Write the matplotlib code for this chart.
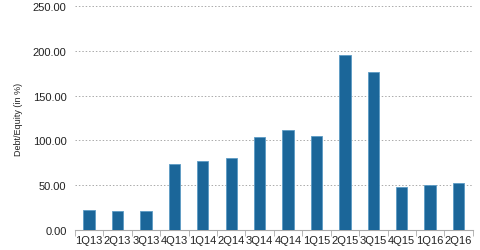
import matplotlib
matplotlib.use('Agg')
import matplotlib.pyplot as plt
import numpy as np

quarters = ['1Q13', '2Q13', '3Q13', '4Q13', '1Q14', '2Q14', '3Q14',
            '4Q14', '1Q15', '2Q15', '3Q15', '4Q15', '1Q16', '2Q16']
debt_equity = [22.7, 21.6, 20.9, 73.8, 77.1, 80.8, 104.3,
               112.1, 105.4, 195.2, 175.9, 48.1, 50.7, 52.2]
y_ticks = [0, 50, 100, 150, 200, 250]

plt.rcParams['font.family'] = ['Liberation Sans', 'DejaVu Sans']

fig = plt.figure(figsize=(4.8, 2.51), dpi=100)
ax = fig.add_axes([0.156, 0.08, 0.829, 0.892])

x = np.arange(len(quarters))
ax.bar(x, debt_equity, width=0.4, color='#1b6699', edgecolor='#5b9bc4', linewidth=0.6, zorder=3)

ax.set_xlim(-0.5, len(quarters) - 0.5)
ax.set_ylim(0, 250)
ax.set_yticks(y_ticks)
ax.set_yticklabels([f'{v:.2f}' for v in y_ticks], fontsize=8, color='#222222')
ax.set_xticks(x)
ax.set_xticklabels(quarters, fontsize=8, color='#222222')
ax.set_xticks(np.arange(-0.5, len(quarters)), minor=True)
ax.tick_params(axis='x', which='major', length=0, pad=4)
ax.tick_params(axis='x', which='minor', length=4, color='#aaaaaa', direction='out')
ax.tick_params(axis='y', length=0, pad=6)

ax.grid(axis='y', linestyle=(0, (1.5, 2)), color='#aaaaaa', linewidth=0.7, zorder=0)
for s in ['top', 'right', 'left']:
    ax.spines[s].set_visible(False)
ax.spines['bottom'].set_color('#aaaaaa')

ax.set_ylabel('Debt/Equity (in %)', fontsize=6.5, color='#222222', labelpad=7)

fig.savefig('out.png', dpi=100)
